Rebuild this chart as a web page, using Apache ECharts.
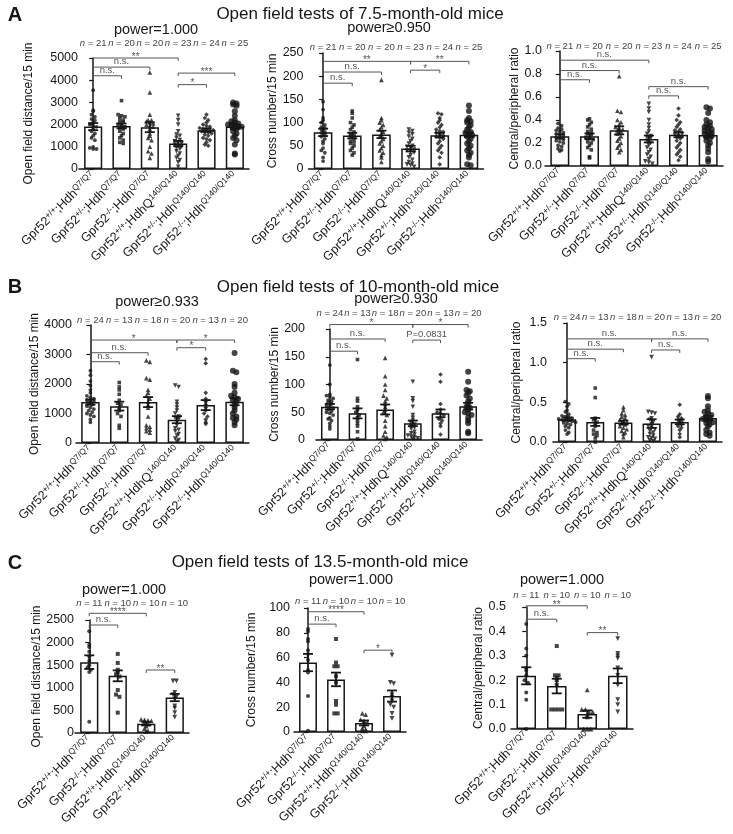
<!DOCTYPE html>
<html><head><meta charset="utf-8">
<script src="https://cdn.jsdelivr.net/npm/echarts@6/dist/echarts.min.js"></script>
<style>html,body{margin:0;padding:0;background:#fff}#c{width:733px;height:834px}</style>
</head><body><div id="c"></div>
<script>
// ================= DATA =================
const catsAB = ['Gpr52^{+/+};Hdh^{Q7/Q7}','Gpr52^{+/-};Hdh^{Q7/Q7}','Gpr52^{-/-};Hdh^{Q7/Q7}','Gpr52^{+/+};HdhQ^{140/Q140}','Gpr52^{+/-};Hdh^{Q140/Q140}','Gpr52^{-/-};Hdh^{Q140/Q140}'];
const catsC = ['Gpr52^{+/+};Hdh^{Q7/Q7}','Gpr52^{-/-};Hdh^{Q7/Q7}','Gpr52^{+/+};Hdh^{Q140/Q140}','Gpr52^{-/-};Hdh^{Q140/Q140}'];
const nA = [21,20,20,23,24,25];
const nB = [24,13,18,20,13,20];
const nC = [11,10,10,10];
const titles = ['Open field tests of 7.5-month-old mice','Open field tests of 10-month-old mice','Open field tests of 13.5-month-old mice'];
const powers = ['power=1.000','power\u22650.950','power\u22650.933','power\u22650.930','power=1.000','power=1.000','power=1.000'];

// A1 open field distance (7.5 months)
const a1Vals = [
 [3550,2650,2600,2450,2350,2250,2200,2100,2000,1950,1900,1800,1700,1600,1500,1400,1300,1000,950,900,900],
 [3080,2450,2400,2350,2300,2200,2150,2100,2000,1950,1900,1850,1800,1700,1600,1500,1400,1300,1200,1150],
 [4350,3450,2450,2200,2200,2150,2100,2050,2000,1950,1900,1800,1600,1500,1400,1300,1000,800,700,500],
 [2400,2200,2000,1700,1550,1500,1400,1300,1250,1200,1150,1100,1050,1000,950,900,800,700,600,500,400,300,100],
 [2450,2300,2200,2100,2000,1950,1900,1850,1800,1800,1750,1750,1700,1700,1650,1600,1550,1500,1400,1350,1300,1200,1100,1050],
 [3000,2950,2900,2850,2600,2400,2200,2150,2100,2050,2000,2000,1950,1900,1900,1850,1800,1700,1600,1500,1400,1300,1100,700,650]];
const a1Mean = [1910,1940,1880,1145,1750,1910];
const a1Sem = [160,110,220,120,80,100];
const a1Brk = [[0,3,5000,'**'],[0,2,4590,'n.s.'],[0,1,4200,'n.s.'],[3,5,4320,'***'],[3,4,3800,'*']];

// A2 cross number (7.5 months)
const a2Vals = [
 [145,128,110,105,100,95,90,88,85,80,78,75,70,65,60,55,45,40,35,25,17],
 [125,120,110,100,95,90,85,80,75,72,70,65,60,58,55,50,45,40,35,30],
 [192,110,105,100,95,90,85,80,75,70,65,60,55,50,45,40,35,30,25,15],
 [85,82,78,75,70,65,60,55,50,48,45,42,40,38,35,30,25,20,15,12,10,8,5],
 [120,118,110,105,100,95,90,85,82,80,78,75,72,70,68,65,60,55,50,45,40,35,25,10],
 [137,125,110,105,103,100,95,90,85,80,78,75,72,70,65,60,55,50,45,40,35,30,25,10,8]];
const a2Mean = [79,72,74.5,44,73,74];
const a2Sem = [8,6,8,6,5,5];
const a2Brk = [[0,3,232,'**'],[0,2,209,'n.s.'],[0,1,185,'n.s.'],[3,5,232,'**'],[3,4,213,'*']];

// A3 central/peripheral ratio (7.5 months)
const a3Vals = [
 [0.37,0.35,0.33,0.32,0.31,0.30,0.29,0.28,0.27,0.26,0.25,0.24,0.23,0.22,0.21,0.20,0.18,0.17,0.15,0.14,0.13],
 [0.41,0.40,0.38,0.36,0.34,0.32,0.30,0.29,0.28,0.27,0.25,0.24,0.23,0.21,0.20,0.18,0.16,0.14,0.08,0.07],
 [0.78,0.48,0.47,0.40,0.38,0.36,0.34,0.33,0.32,0.31,0.30,0.28,0.26,0.24,0.22,0.20,0.18,0.16,0.14,0.12],
 [0.54,0.50,0.47,0.40,0.36,0.33,0.30,0.28,0.26,0.25,0.24,0.22,0.20,0.18,0.16,0.14,0.12,0.10,0.08,0.06,0.04,0.03,0.02],
 [0.50,0.44,0.40,0.38,0.36,0.34,0.32,0.31,0.30,0.29,0.28,0.27,0.26,0.25,0.24,0.22,0.20,0.18,0.16,0.14,0.12,0.10,0.08,0.05],
 [0.51,0.50,0.46,0.40,0.38,0.36,0.35,0.34,0.33,0.32,0.31,0.30,0.29,0.28,0.27,0.26,0.25,0.24,0.22,0.20,0.18,0.15,0.12,0.06,0.04]];
const a3Mean = [0.258,0.258,0.31,0.235,0.272,0.27];
const a3Sem = [0.018,0.025,0.035,0.03,0.022,0.02];
const a3Brk = [[0,3,0.92,'n.s.'],[0,2,0.83,'n.s.'],[0,1,0.75,'n.s.'],[3,5,0.69,'n.s.'],[3,4,0.61,'n.s.']];

// B1 open field distance (10 months)
const b1Vals = [
 [2450,2300,2100,1950,1800,1700,1600,1550,1500,1450,1400,1400,1350,1300,1250,1200,1150,1100,1050,1000,950,900,800,700],
 [2050,1900,1800,1650,1450,1350,1300,1200,1100,1000,900,600,500],
 [2800,2750,2200,2150,1800,1700,1600,1500,1400,1300,1200,900,600,550,500,450,400,350],
 [1950,1900,1400,1300,1200,1100,1000,900,850,800,700,600,500,450,400,300,250,150,100,50],
 [2850,2700,1700,1500,1400,1300,1200,1100,1000,900,800,700,650],
 [3050,2450,2400,2000,1900,1700,1600,1550,1500,1450,1400,1300,1200,1100,1000,900,850,800,700,600]];
const b1Mean = [1386,1250,1386,790,1285,1400];
const b1Sem = [90,150,170,120,170,120];
const b1Brk = [[0,3,3490,'*'],[0,2,3060,'n.s.'],[0,1,2756,'n.s.'],[3,5,3490,'*'],[3,4,3230,'*']];

// B2 cross number (10 months)
const b2Vals = [
 [135,100,82,80,78,75,72,70,68,65,62,60,58,55,52,50,48,45,40,38,35,30,25,20],
 [145,75,70,60,55,50,45,40,35,30,25,15,2],
 [148,115,100,90,80,75,70,65,60,55,50,45,35,25,15,8,5,2],
 [105,75,70,60,45,40,35,30,28,25,22,20,15,12,10,8,6,5,3,2],
 [118,105,65,55,50,48,45,40,38,35,30,25,10],
 [123,105,90,88,85,80,75,70,65,60,58,55,50,48,45,40,35,30,15,12]];
const b2Mean = [60,48,55,30,48,61];
const b2Sem = [5,9,9,5,7,6];
const b2Brk = [[0,3,208,'*'],[0,2,182,'n.s.'],[0,1,160,'n.s.'],[3,5,208,'*'],[3,4,180,'P=0.0831']];

// B3 central/peripheral ratio (10 months)
const b3Vals = [
 [0.51,0.48,0.45,0.40,0.38,0.35,0.33,0.32,0.31,0.30,0.29,0.28,0.28,0.27,0.26,0.25,0.24,0.23,0.22,0.20,0.18,0.15,0.12,0.10],
 [0.68,0.56,0.30,0.28,0.25,0.22,0.20,0.15,0.12,0.10,0.08,0.05,0.0],
 [0.44,0.40,0.36,0.34,0.32,0.30,0.28,0.26,0.25,0.24,0.22,0.20,0.18,0.16,0.14,0.12,0.10,0.06],
 [1.07,0.38,0.37,0.36,0.30,0.28,0.25,0.22,0.20,0.18,0.16,0.14,0.12,0.10,0.08,0.06,0.05,0.04,0.02,0.01],
 [0.47,0.35,0.32,0.30,0.28,0.26,0.24,0.22,0.20,0.18,0.15,0.10,0.06],
 [0.58,0.55,0.45,0.40,0.38,0.36,0.34,0.32,0.30,0.29,0.28,0.27,0.25,0.24,0.22,0.20,0.15,0.12,0.10,0.08]];
const b3Mean = [0.287,0.253,0.245,0.232,0.253,0.304];
const b3Sem = [0.02,0.05,0.025,0.055,0.03,0.025];
const b3Brk = [[0,3,1.30,'n.s.'],[0,2,1.17,'n.s.'],[0,1,1.05,'n.s.'],[3,5,1.30,'n.s.'],[3,4,1.16,'n.s.']];

// C1 open field distance (13.5 months)
const c1Vals = [
 [2250,1950,1900,1800,1700,1600,1500,1450,1400,1350,250],
 [1750,1550,1400,1350,1300,1250,950,850,800,450],
 [300,290,280,270,250,200,150,100,50,30],
 [1150,1150,900,850,800,750,600,550,450,350]];
const c1Mean = [1568,1265,207,784];
const c1Sem = [150,120,40,80];
const c1Brk = [[0,2,2648,'****'],[0,1,2389,'n.s.'],[2,3,1394,'**']];

// C2 cross number (13.5 months)
const c2Vals = [
 [83,81,75,73,66,63,58,50,48,29,1],
 [75,56,53,53,45,40,25,22,15,15],
 [15,14,10,9,8,5,3,2,1,1],
 [62,40,39,30,28,25,22,20,15,11]];
const c2Mean = [56,42.4,7.3,29];
const c2Sem = [7,5.5,2,4.5];
const c2Brk = [[0,2,97,'****'],[0,1,87,'n.s.'],[2,3,66,'*']];

// C3 central/peripheral ratio (13.5 months)
const c3Vals = [
 [0.43,0.33,0.30,0.25,0.24,0.22,0.20,0.19,0.15,0.12,0.0],
 [0.34,0.22,0.22,0.21,0.20,0.18,0.08,0.08,0.08,0.08],
 [0.16,0.08,0.08,0.07,0.07,0.06,0.05,0.0,0.0,0.0],
 [0.37,0.31,0.30,0.29,0.25,0.22,0.18,0.12,0.10,0.07]];
const c3Mean = [0.218,0.176,0.061,0.218];
const c3Sem = [0.035,0.03,0.015,0.03];
const c3Brk = [[0,2,0.505,'**'],[0,1,0.45,'n.s.'],[2,3,0.395,'**']];

// ================= LAYOUT / STYLE =================
const FONT = '"Liberation Sans", Arial, Helvetica, sans-serif';
const INK = '#161616';
const symAB = [{s:'circle',z:3.8},{s:'rect',z:3.6},{s:'triangle',z:4.6},{s:'triangle',z:4.6,r:180},{s:'diamond',z:4.6},{s:'circle',z:6}];
const symC = [{s:'circle',z:4},{s:'rect',z:4},{s:'triangle',z:4.8},{s:'triangle',z:4.8,r:180}];

const panels = [
 {cats:catsAB,vals:a1Vals,mean:a1Mean,sem:a1Sem,n:nA,brk:a1Brk,sym:symAB,left:79,top:58,w:170,h:111,max:5000,int:1000,dec:0,name:'Open field distance/15 min',gap:48,off:-4,nm:10},
 {cats:catsAB,vals:a2Vals,mean:a2Mean,sem:a2Sem,n:nA,brk:a2Brk,sym:symAB,left:308.5,top:53,w:175,h:116,max:250,int:50,dec:0,name:'Cross number/15 min',gap:21,off:0,nm:1},
 {cats:catsAB,vals:a3Vals,mean:a3Mean,sem:a3Sem,n:nA,brk:a3Brk,sym:symAB,left:545,top:51,w:178,h:115,max:1.0,int:0.2,dec:1,name:'Central/peripheral ratio',gap:21,off:-2,nm:0},
 {cats:catsAB,vals:b1Vals,mean:b1Mean,sem:b1Sem,n:nB,brk:b1Brk,sym:symAB,left:76,top:325,w:173,h:118,max:4000,int:1000,dec:0,name:'Open field distance/15 min',gap:35,off:-1,nm:0},
 {cats:catsAB,vals:b2Vals,mean:b2Mean,sem:b2Sem,n:nB,brk:b2Brk,sym:symAB,left:316,top:329,w:166,h:111,max:200,int:50,dec:0,name:'Cross number/15 min',gap:19,off:6,nm:11},
 {cats:catsAB,vals:b3Vals,mean:b3Mean,sem:b3Sem,n:nB,brk:b3Brk,sym:symAB,left:553,top:323,w:169,h:119,max:1.5,int:0.5,dec:1,name:'Central/peripheral ratio',gap:29,off:1,nm:1},
 {cats:catsC,vals:c1Vals,mean:c1Mean,sem:c1Sem,n:nC,brk:c1Brk,sym:symC,left:75,top:620,w:114,h:113,max:2500,int:500,dec:0,name:'Open field distance/15 min',gap:34,off:-4,nm:12},
 {cats:catsC,vals:c2Vals,mean:c2Mean,sem:c2Sem,n:nC,brk:c2Brk,sym:symC,left:294,top:608,w:112,h:124,max:100,int:20,dec:0,name:'Cross number/15 min',gap:37,off:-1,nm:2},
 {cats:catsC,vals:c3Vals,mean:c3Mean,sem:c3Sem,n:nC,brk:c3Brk,sym:symC,left:511,top:607,w:122,h:122,max:0.5,int:0.1,dec:1,name:'Central/peripheral ratio',gap:23,off:0,nm:7}
];

function toRich(s){
  return s.split(/(\^\{[^}]*\})/).filter(Boolean)
    .map(t => t.startsWith('^{') ? '{s|' + t.slice(2,-1) + '}' : '{m|' + t + '}').join('');
}
// horizontal spreading of overlapping points (layout only)
function swarm(vals, ymax){
  const bin = ymax * 0.03;
  const groups = {};
  vals.slice().sort((a,b)=>b-a).forEach(v => { const k = Math.round(v/bin); (groups[k] = groups[k] || []).push(v); });
  const out = [];
  Object.keys(groups).forEach(k => {
    const g = groups[k], n = g.length;
    g.forEach((v,j) => { let o = (j-(n-1)/2)*0.12; o = Math.max(-0.34, Math.min(0.34, o)); out.push([o, v]); });
  });
  return out;
}

const grid = [], xAxis = [], yAxis = [], series = [];
panels.forEach((p, gi) => {
  const nc = p.cats.length;
  grid.push({left:p.left, top:p.top, width:p.w, height:p.h, containLabel:false});
  const xc = xAxis.length;
  xAxis.push({type:'category', gridIndex:gi, data:p.cats, boundaryGap:true,
    axisLine:{lineStyle:{color:INK,width:1.5}}, axisTick:{alignWithLabel:true,length:4,lineStyle:{color:INK,width:1.2}},
    axisLabel:{interval:0, rotate:45, margin:5, hideOverlap:false, formatter:v=>toRich(v),
      rich:{m:{fontSize:12.5,fontFamily:FONT,color:INK,lineHeight:14},s:{fontSize:8.5,fontFamily:FONT,color:INK,lineHeight:9,verticalAlign:'top'}}}});
  xAxis.push({type:'category', gridIndex:gi, position:'top', data:p.n, boundaryGap:true,
    axisLine:{show:false}, axisTick:{show:false},
    axisLabel:{interval:0, margin:p.nm, hideOverlap:false, formatter:v=>'{i|n} = ' + v, fontSize:9.5, fontFamily:FONT, color:'#444',
      rich:{i:{fontStyle:'italic',fontSize:9.5,fontFamily:FONT,color:'#444'}}}});
  const xv = xAxis.length;
  xAxis.push({type:'value', gridIndex:gi, min:-0.5, max:nc-0.5, show:false});
  yAxis.push({type:'value', gridIndex:gi, min:0, max:p.max, interval:p.int, offset:p.off,
    name:p.name, nameLocation:'middle', nameGap:p.gap, nameRotate:90,
    nameTextStyle:{fontSize:12,fontFamily:FONT,color:INK,verticalAlign:'bottom'},
    axisLine:{show:true,lineStyle:{color:INK,width:1.5}}, axisTick:{show:true,length:4,lineStyle:{color:INK,width:1.2}},
    splitLine:{show:false},
    axisLabel:{fontSize:12.5,fontFamily:FONT,color:INK,margin:5,formatter:v=>v.toFixed(p.dec)}});
  // bars (mean)
  series.push({type:'bar', xAxisIndex:xc, yAxisIndex:gi, data:p.mean, barWidth:'64%',
    itemStyle:{color:'#fff',borderColor:INK,borderWidth:1.5}, silent:true, z:2});
  // points
  p.vals.forEach((vals, i) => {
    const sy = p.sym[i];
    series.push({type:'scatter', xAxisIndex:xv, yAxisIndex:gi, symbol:sy.s, symbolSize:sy.z, symbolRotate:sy.r || 0,
      itemStyle:{color:INK}, silent:true, z:3,
      data: swarm(vals, p.max).map(d => [i + d[0], d[1]])});
  });
  // error bars (SEM)
  series.push({type:'custom', xAxisIndex:xc, yAxisIndex:gi, z:4, silent:true,
    data: p.mean.map((m,i)=>[i, m, p.sem[i]]),
    renderItem:(params, api) => {
      const x = api.value(0), m = api.value(1), s = api.value(2);
      const t = api.coord([x, m+s]), b = api.coord([x, m-s]);
      const st = {stroke:INK, lineWidth:1.8};
      return {type:'group', children:[
        {type:'line', shape:{x1:t[0],y1:t[1],x2:b[0],y2:b[1]}, style:st},
        {type:'line', shape:{x1:t[0]-5,y1:t[1],x2:t[0]+5,y2:t[1]}, style:st},
        {type:'line', shape:{x1:b[0]-5,y1:b[1],x2:b[0]+5,y2:b[1]}, style:st}]};
    }});
  // significance brackets
  const brk = p.brk;
  series.push({type:'custom', xAxisIndex:xc, yAxisIndex:gi, z:5, silent:true, clip:false,
    data: brk.map(b=>[b[0], b[2]]),
    renderItem:(params, api) => {
      const b = brk[params.dataIndex];
      const p1 = api.coord([b[0], b[2]]), p2 = api.coord([b[1], b[2]]);
      const star = /^\*+$/.test(b[3]);
      return {type:'group', children:[
        {type:'polyline', shape:{points:[[p1[0],p1[1]+3],[p1[0],p1[1]],[p2[0],p2[1]],[p2[0],p2[1]+3]]},
          style:{stroke:'#555', lineWidth:1, fill:null}},
        {type:'text', x:(p1[0]+p2[0])/2, y:p1[1] + (star ? 4 : -0.5),
          style:{text:b[3], fontSize:star ? 10 : 9.5, fontFamily:FONT, fill:'#555', align:'center', verticalAlign:'bottom'}}]};
    }});
});

function txt(x, y, t, size, weight){
  return {type:'text', x:x, y:y, silent:true,
    style:{text:t, fontSize:size, fontWeight:weight||'normal', fontFamily:FONT, fill:INK, align:'center', verticalAlign:'middle'}};
}
const graphic = [
  txt(15, 15, 'A', 20, 'bold'), txt(15, 287, 'B', 20, 'bold'), txt(15, 563, 'C', 20, 'bold'),
  txt(360, 14, titles[0], 17), txt(358, 287, titles[1], 17), txt(320, 562, titles[2], 17),
  txt(156, 30, powers[0], 14.5), txt(389, 28, powers[1], 14.5),
  txt(157, 302, powers[2], 14.5), txt(396, 299, powers[3], 14.5),
  txt(124, 590, powers[4], 14.5), txt(351, 580, powers[5], 14.5), txt(562, 580, powers[6], 14.5)
];

const chart = echarts.init(document.getElementById('c'), null, {renderer:'canvas'});
chart.setOption({animation:false, backgroundColor:'#fff', grid, xAxis, yAxis, series, graphic});
</script></body></html>
